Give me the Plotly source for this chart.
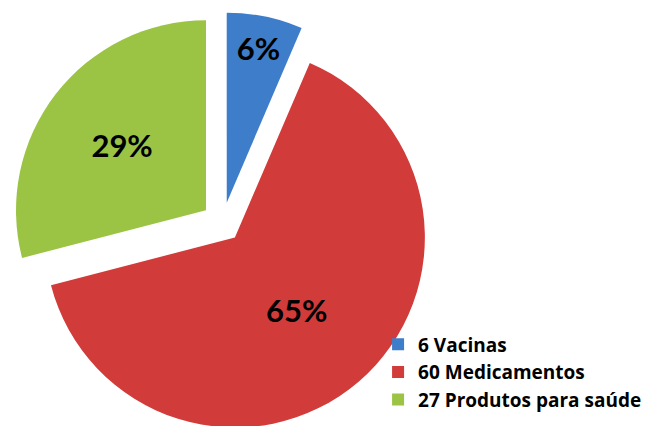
import plotly.graph_objects as go

labels = ["6 Vacinas", "60 Medicamentos", "27 Produtos para saúde"]
values = [6, 60, 27]
colors = ["#3D7DCA", "#D13B3A", "#9BC445"]
pulls = [0.11, 0.10, 0.11]

fig = go.Figure(go.Pie(
    labels=labels,
    values=values,
    sort=False,
    direction="clockwise",
    rotation=0,
    pull=pulls,
    marker=dict(colors=colors, line=dict(width=0)),
    texttemplate="%{percent:.0%}",
    textposition="inside",
    insidetextorientation="horizontal",
    textfont=dict(family="Lato", size=31, color="black", weight="bold"),
    domain=dict(x=[0, 0.655], y=[0, 0.99]),
    hoverinfo="label+percent",
))

fig.update_layout(
    width=655, height=426,
    margin=dict(l=0, r=0, t=0, b=0),
    paper_bgcolor="white",
    plot_bgcolor="white",
    legend=dict(x=0.565, y=0.255, xanchor="left", yanchor="top",
                bgcolor="rgba(0,0,0,0)",
                font=dict(family="Open Sans", size=19, color="black", weight="bold"),
                itemwidth=30, tracegroupgap=0),
)

fig.write_html("out.html")
